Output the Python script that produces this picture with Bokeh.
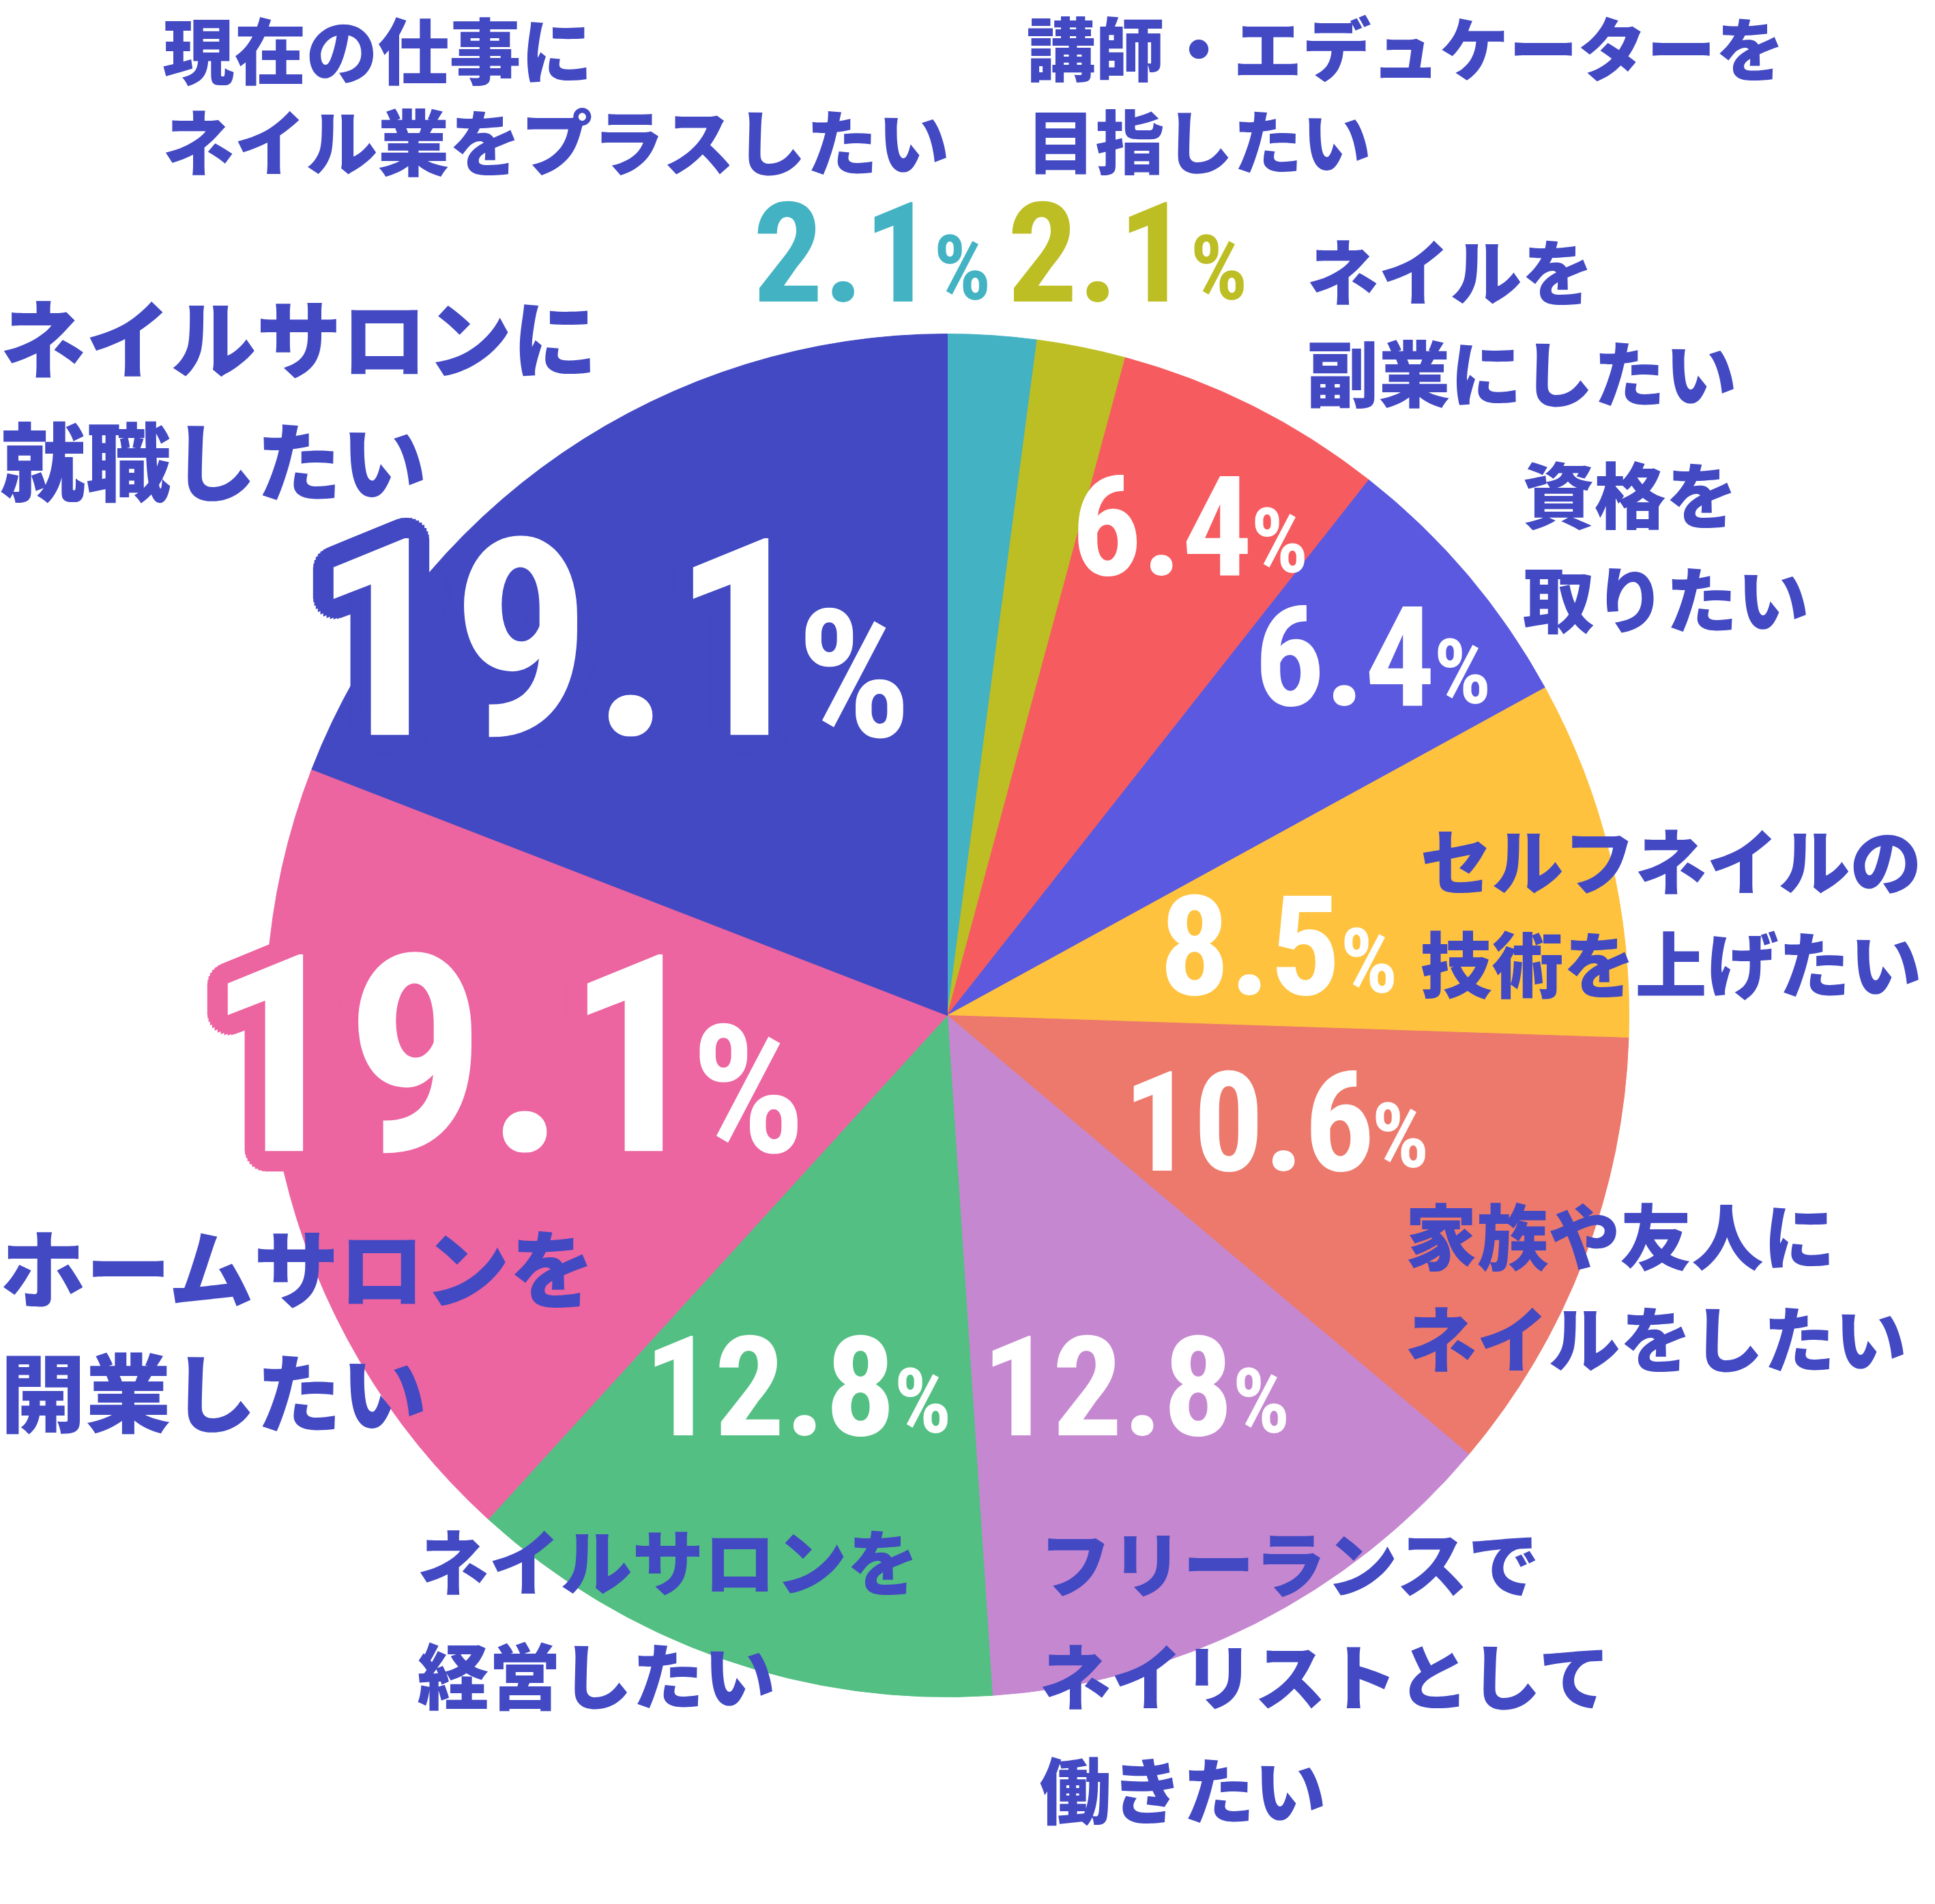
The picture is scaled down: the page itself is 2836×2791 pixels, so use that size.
import math
from bokeh.plotting import figure
from bokeh.models import ColumnDataSource, Range1d
from bokeh.embed import file_html
from bokeh.resources import INLINE
from bokeh.core.properties import value

# ---------------- data (clockwise from 12 o'clock) ----------------
categories = [
    "現在の仕事に\nネイル業をプラスしたい",
    "講師・エデュケーターを\n目指したい",
    "ネイルを\n副業にしたい",
    "資格を\n取りたい",
    "セルフネイルの\n技術を上げたい",
    "家族や友人に\nネイルをしたい",
    "フリーランスで\nネイリストとして\n働きたい",
    "ネイルサロンを\n経営したい",
    "ホームサロンを\n開業したい",
    "ネイルサロンに\n就職したい",
]
values = [2.1, 2.1, 6.4, 6.4, 8.5, 10.6, 12.8, 12.8, 19.1, 19.1]

# ---------------- styles ----------------
colors = ["#43B2C3", "#BDBD24", "#F65B5F", "#5A59DF", "#FEC23F",
          "#EC796B", "#C587D0", "#53BF83", "#EC64A0", "#4249C2"]
label_color = "#4249C3"
num_colors = ["#43B2C3", "#BDBD24"] + ["#FFFFFF"] * 8
JP_FONT = value("Noto Sans CJK JP Black")
NUM_FONT = value("Roboto Condensed")

# ---------------- layout (reference pixel coordinates, y down) ----------------
# (font sizes avoid exact multiples of 100, which the SVG font parser misreads)
W, H = 2836, 2791
CX, CY, R = 1396, 1496, 999
label_pos = [  # left x, line centre ys, font px
    (246, [76, 210], 105),
    (1512, [74, 210], 101),
    (1923, [400, 549], 105),
    (2239, [727, 880], 105),
    (2089, [1264, 1415], 105),
    (2067, [1814, 1964], 105),
    (1531, [2294, 2459, 2626], 105),
    (619, [2291, 2458], 105),
    (8, [1861, 2043], 125),
    (8, [498, 678], 125),
]
num_pos = [  # number ink right x, baseline, size, % ink left x, % baseline, % size, outline
    (1350, 447, 204, 1381, 442, 132, False),
    (1723, 447, 204, 1757, 442, 132, False),
    (1835, 848, 204, 1846, 842, 132, False),
    (2103, 1039, 204, 2114, 1034, 132, False),
    (1964, 1463, 204, 1977, 1458, 132, False),
    (2014, 1721, 204, 2023, 1714, 132, False),
    (1807, 2109, 204, 1819, 2103, 132, False),
    (1312, 2109, 204, 1323, 2103, 132, False),
    (989, 1689, 405, 1031, 1688, 262, True),
    (1144, 1079, 405, 1186, 1079, 262, True),
]
ONE_BEARING = 0.13   # right side bearing of "1" (em)
DIG_BEARING = 0.04   # right side bearing of other digits (em)
PCT_BEARING = 0.04   # left side bearing of "%" (em)
NUM_SHIFT = 0.345    # rendered baseline offset correction (em)
PCT_SHIFT = 0.31


def Y(y):
    return H - y


p = figure(width=2820, height=2775, output_backend="svg", toolbar_location=None,
           x_range=Range1d(8, 2828), y_range=Range1d(8, 2783),
           min_border=0, outline_line_color=None, background_fill_color="white")
p.axis.visible = False
p.grid.visible = False

# ---------------- pie ----------------
total = sum(values)
starts, ends = [], []
cum = 0.0
for v in values:
    starts.append(math.pi / 2 - 2 * math.pi * (cum + v) / total)
    ends.append(math.pi / 2 - 2 * math.pi * cum / total)
    cum += v
src = ColumnDataSource(dict(x=[CX] * len(values), y=[Y(CY)] * len(values),
                            start=starts, end=ends, color=colors))
p.wedge(x="x", y="y", radius=R, start_angle="start", end_angle="end",
        fill_color="color", line_color="color", line_width=1, source=src)

# ---------------- percentage numbers ----------------
for i, v in enumerate(values):
    nx, nb, ns, px_, pb, ps, outline = num_pos[i]
    txt = f"{v}"
    bear = ONE_BEARING if txt.endswith("1") else DIG_BEARING
    ax = nx + bear * ns
    ny = Y(nb - NUM_SHIFT * ns)
    if outline:
        ox, oy = [], []
        for rad in (10, 20, 30):
            for k in range(36):
                t = 2 * math.pi * k / 36
                ox.append(rad * math.cos(t))
                oy.append(rad * math.sin(t))
        n = len(ox)
        osrc = ColumnDataSource(dict(x=[ax] * n, y=[ny] * n, t=[txt] * n, xo=ox, yo=oy))
        p.text(x="x", y="y", text="t", x_offset="xo", y_offset="yo", source=osrc,
               text_font=NUM_FONT, text_font_size=f"{ns}px", text_font_style="bold",
               text_color=colors[i], text_align="right", text_baseline="alphabetic")
    p.text(x=[ax], y=[ny], text=[txt], text_font=NUM_FONT,
           text_font_size=f"{ns}px", text_font_style="bold", text_color=num_colors[i],
           text_align="right", text_baseline="alphabetic")
    p.text(x=[px_ - PCT_BEARING * ps], y=[Y(pb - PCT_SHIFT * ps)], text=["%"],
           text_font=NUM_FONT, text_font_size=f"{ps}px", text_font_style="bold",
           text_color=num_colors[i], text_align="left", text_baseline="alphabetic")

# ---------------- category labels ----------------
for i, cat in enumerate(categories):
    lx, ys, fs = label_pos[i]
    lines = cat.split("\n")
    p.text(x=[lx] * len(lines), y=[Y(yy) for yy in ys], text=lines,
           text_font=JP_FONT, text_font_size=f"{fs}px", text_font_style="bold",
           text_color=label_color, text_align="left", text_baseline="middle")

open("out.html", "w").write(file_html(p, INLINE))
